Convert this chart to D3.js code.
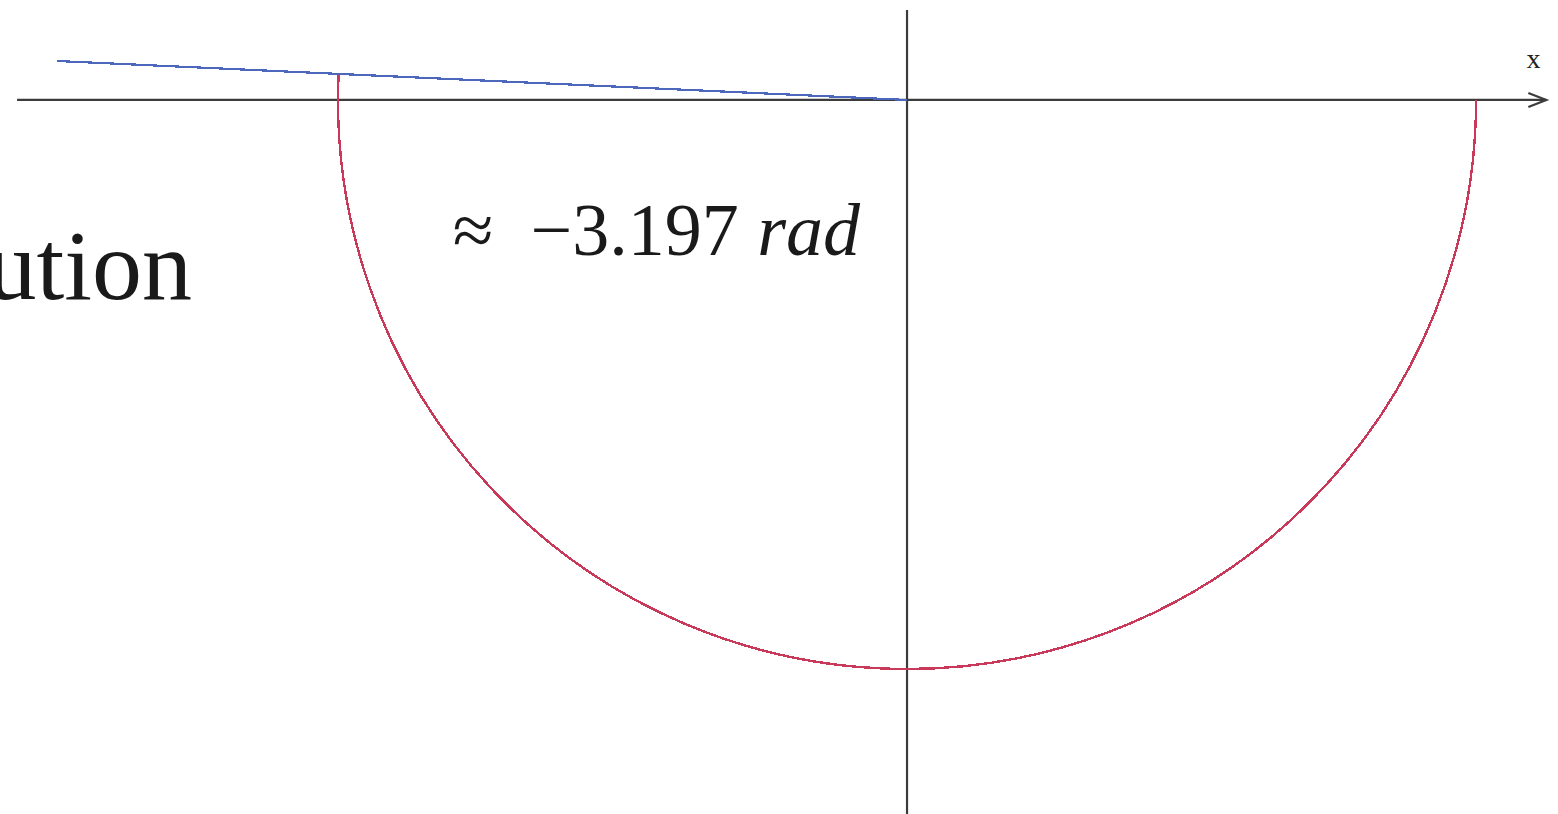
<!DOCTYPE html>
<html>
<head>
<meta charset="utf-8">
<script src="https://cdn.jsdelivr.net/npm/d3@7"></script>
<style>
  html, body { margin: 0; padding: 0; background: #fff; overflow: hidden; }
  svg { display: block; }
</style>
</head>
<body>
<svg id="chart" width="1558" height="814"></svg>
<script>
// Axis extents (data units, unit circle radius = 1)
const xDomain = [-1.594, 1.144];
const yDomain = [-1.255, 0.1757];
const axisLabel = "x";

// Ray from the origin (blue) and its far end
const rayStart = [0, 0];
const rayEnd = [-1.494, 0.0685];

// Circle arc (red): radius and the angles it sweeps, in radians
const arcRadius = [1];
const arcAngles = [0, -3.1874]; // from +x axis clockwise round to the ray

// Annotation texts
const angleLabelParts = ["\u2248\u2002\u22123.197 ", "rad"];
const sideText = "ution";

const W = 1558, H = 814;
const svg = d3.select("#chart");

const x = d3.scaleLinear().domain(xDomain).range([0, W]);
const y = d3.scaleLinear().domain(yDomain).range([H, 0]);
const axisColor = "#3c3c3c";

// x axis with open arrow head
const x0 = x(-1.564), x1 = x(1.127);
svg.append("line")
  .attr("x1", x0).attr("x2", x1 - 2)
  .attr("y1", y(0)).attr("y2", y(0))
  .attr("stroke", axisColor).attr("stroke-width", 2.2);
svg.append("path")
  .attr("d", d3.line()([[x1 - 20, y(0) - 7], [x1 - 2, y(0)], [x1 - 20, y(0) + 7]]))
  .attr("fill", "none").attr("stroke", axisColor).attr("stroke-width", 2.2);
svg.append("text")
  .attr("x", x(1.101)).attr("y", y(0) - 32)
  .attr("text-anchor", "middle")
  .attr("font-family", "Liberation Serif, serif")
  .attr("font-size", 28)
  .attr("fill", "#222")
  .text(axisLabel);

// y axis
svg.append("line")
  .attr("x1", x(0)).attr("x2", x(0))
  .attr("y1", y(0.158)).attr("y2", H)
  .attr("stroke", axisColor).attr("stroke-width", 2.2);

// red arc from angle 0 clockwise (below the axis) round to the ray
const cx = x(0), cy = y(0);
const rPx = x(arcRadius[0]) - x(0);
const p = d3.path();
p.moveTo(cx + rPx * Math.cos(-arcAngles[0]), cy + rPx * Math.sin(-arcAngles[0]));
p.arc(cx, cy, rPx, -arcAngles[0], -arcAngles[1], false);
svg.append("path")
  .attr("d", p.toString())
  .attr("fill", "none")
  .attr("stroke", "#c93a5a")
  .attr("stroke-width", 2.4)
  .attr("shape-rendering", "crispEdges");

// blue ray
svg.append("path")
  .attr("d", d3.line().x(d => x(d[0])).y(d => y(d[1]))([rayStart, rayEnd]))
  .attr("fill", "none")
  .attr("stroke", "#4d67bd")
  .attr("stroke-width", 2.2)
  .attr("shape-rendering", "crispEdges");

// annotation text
const t = svg.append("text")
  .attr("x", 860).attr("y", 255)
  .attr("text-anchor", "end")
  .attr("font-family", "Liberation Serif, Times New Roman, serif")
  .attr("font-size", 74)
  .attr("fill", "#1a1a1a");
t.append("tspan").text(angleLabelParts[0]);
t.append("tspan").attr("font-style", "italic").text(angleLabelParts[1]);

svg.append("text")
  .attr("x", 192).attr("y", 299)
  .attr("text-anchor", "end")
  .attr("font-family", "Liberation Serif, Times New Roman, serif")
  .attr("font-size", 100)
  .attr("fill", "#1a1a1a")
  .text(sideText);
</script>
</body>
</html>
